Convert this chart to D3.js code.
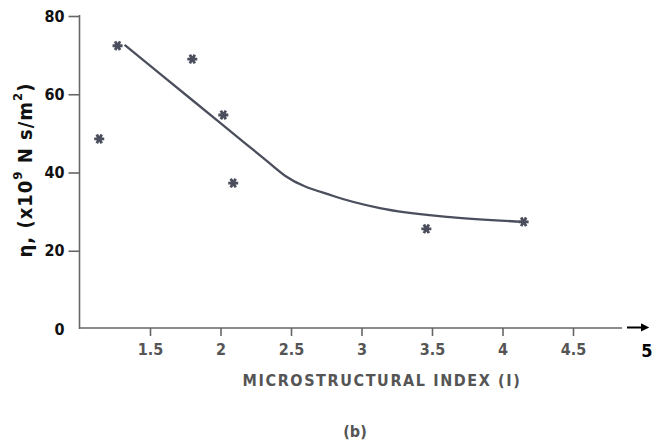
<!DOCTYPE html>
<html>
<head>
<meta charset="utf-8">
<script src="https://cdn.jsdelivr.net/npm/d3@7"></script>
<style>
  body { margin: 0; background: #fff; }
  svg { display: block; }
  text { font-family: "DejaVu Sans Condensed", "DejaVu Sans", sans-serif; font-weight: bold; }
</style>
</head>
<body>
<svg id="chart" width="654" height="448"></svg>
<script>
// measured points (stars)
const pointX = [1.14, 1.27, 1.80, 2.02, 2.09, 3.46, 4.15];
const pointY = [48.6, 72.4, 69.0, 54.7, 37.3, 25.6, 27.4];

// fitted curve
const curveX = [1.32, 1.60, 2.00, 2.30, 2.46, 2.80, 3.13, 3.63, 4.15];
const curveY = [72.6, 64.4, 52.6, 43.8, 39.1, 34.0, 30.9, 28.6, 27.4];

const xTicks = [1.5, 2, 2.5, 3, 3.5, 4, 4.5];
const xTickLabels = ['1.5', '2', '2.5', '3', '3.5', '4', '4.5'];
const yTicks = [0, 20, 40, 60, 80];

const svg = d3.select('#chart');
const margin = { left: 79.5, top: 16, bottom: 329 };

const x = d3.scaleLinear().domain([1, 4.9]).range([margin.left, margin.left + 3.9 * 141]);
const y = d3.scaleLinear().domain([0, 80]).range([329, 16]);

const ink = '#4b4e5c';

// y axis
const yAxis = svg.append('g')
  .attr('transform', `translate(${margin.left},0)`)
  .call(d3.axisLeft(y).tickValues(yTicks).tickSize(11).tickPadding(4).tickSizeOuter(0));
yAxis.select('.domain').attr('stroke', '#666').attr('stroke-width', 1.6)
  .attr('d', `M0,${y(0)}V${y(80) - 1}`);
yAxis.selectAll('.tick line').attr('stroke', '#666').attr('stroke-width', 1.6);
yAxis.selectAll('.tick text').attr('fill', '#111').style('font-size', '16px');
yAxis.selectAll('.tick').filter(d => d === 0).select('line').remove();

// x axis
const xAxis = svg.append('g')
  .attr('transform', `translate(0,${y(0) - 1})`)
  .call(d3.axisBottom(x).tickValues(xTicks).tickFormat((d, i) => xTickLabels[i]).tickSize(8).tickPadding(8).tickSizeOuter(0));
xAxis.select('.domain').attr('stroke', '#666').attr('stroke-width', 1.6)
  .attr('d', `M${margin.left},0H622`);
xAxis.selectAll('.tick line').attr('stroke', '#666').attr('stroke-width', 1.6);
xAxis.selectAll('.tick text').attr('fill', '#555').style('font-size', '16px');

// arrow and "5" at the end of x axis
svg.append('path').attr('d', 'M627,327.5H646M642,325L647,327.5L642,330Z')
  .attr('stroke', '#000').attr('stroke-width', 2).attr('fill', '#000');
svg.append('text').attr('x', 647).attr('y', 352).attr('text-anchor', 'middle')
  .attr('dominant-baseline', 'middle').style('font-size', '18px').attr('fill', '#000').text('5');

// curve
const line = d3.line()
  .x((d, i) => x(curveX[i]))
  .y(d => y(d))
  .curve(d3.curveMonotoneX);
svg.append('path')
  .datum(curveY)
  .attr('d', line)
  .attr('fill', 'none')
  .attr('stroke', ink)
  .attr('stroke-width', 2.3);

// stars
const star = d3.symbol().type(d3.symbolAsterisk).size(70);
svg.selectAll('.star')
  .data(pointY)
  .enter().append('path')
  .attr('class', 'star')
  .attr('transform', (d, i) => `translate(${x(pointX[i])},${y(d)}) rotate(90)`)
  .attr('d', star)
  .attr('fill', 'none')
  .attr('stroke', ink)
  .attr('stroke-width', 2.8);

// axis titles
svg.append('text')
  .attr('x', 382).attr('y', 381)
  .attr('text-anchor', 'middle').attr('dominant-baseline', 'middle')
  .attr('fill', '#555')
  .style('font-size', '16px')
  .style('letter-spacing', '1.6px')
  .text('MICROSTRUCTURAL INDEX (I)');

svg.append('text')
  .attr('x', 355).attr('y', 432)
  .attr('text-anchor', 'middle').attr('dominant-baseline', 'middle')
  .attr('fill', '#555')
  .style('font-size', '16px')
  .text('(b)');

const yl = svg.append('text')
  .attr('transform', 'translate(26,170) rotate(-90)')
  .attr('text-anchor', 'middle').attr('dominant-baseline', 'middle')
  .attr('fill', '#111')
  .style('font-size', '20px')
  .style('letter-spacing', '1px');
yl.append('tspan').text('η, (x10');
yl.append('tspan').attr('dy', -8).style('font-size', '13px').text('9');
yl.append('tspan').attr('dy', 8).text(' N s/m');
yl.append('tspan').attr('dy', -8).style('font-size', '13px').text('2');
yl.append('tspan').attr('dy', 8).text(')');
</script>
</body>
</html>
